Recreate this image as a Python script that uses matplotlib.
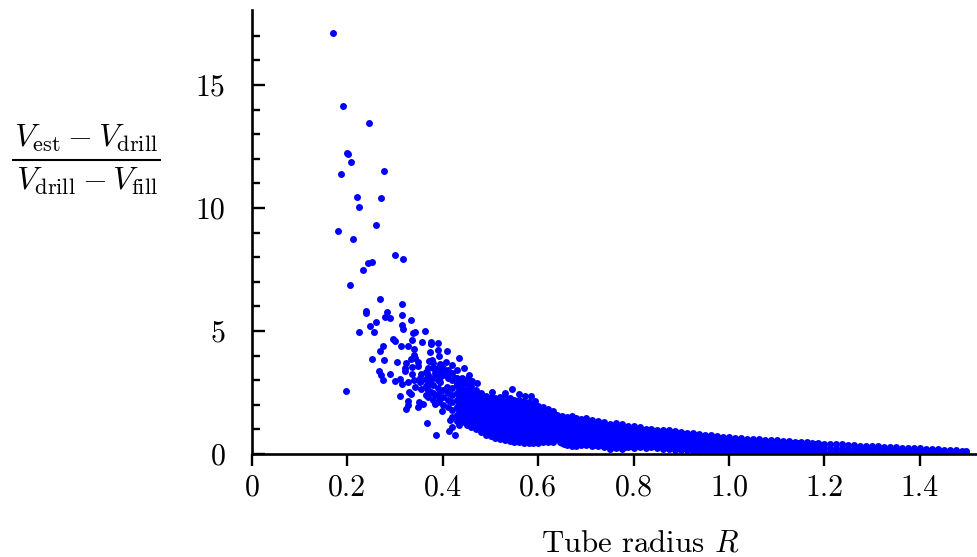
import matplotlib
matplotlib.use('Agg')
import matplotlib.pyplot as plt
from matplotlib.lines import Line2D

plt.rcParams['font.family'] = ['cmr10', 'DejaVu Sans']
plt.rcParams['mathtext.fontset'] = 'cm'
plt.rcParams['axes.unicode_minus'] = False

# points read one by one where the cloud is sparse
sparse_r = [.170, .191, .246, .199, .2006, .208, .277, .187, .220, .270, .225, .260, .180, .212,
            .300, .317, .252, .243, .233, .205,
            .268, .314, .240, .238, .283, .279, .289, .314, .333, .259, .248, .314, .317, .256,
            .225, .342, .338, .363, .335, .296, .300, .356, .375, .375, .390, .274, .313, .328,
            .340, .389, .268, .374, .409, .391, .340, .342, .333, .251, .277, .305, .323, .349,
            .349, .371, .377, .380, .407, .420, .433, .445, .394, .335, .320, .370, .389, .266,
            .270, .289, .321, .335, .367, .384, .401, .412, .274, .300, .310, .315, .328, .339,
            .353, .352, .370, .373, .387, .394, .426, .429, .454, .461, .342, .329, .333, .366,
            .375, .365, .384, .408, .471, .198, .310, .327, .326, .323, .351, .358, .347, .384,
            .398, .367, .386, .412, .425, .419, .433, .415, .450, .503, .530, .545, .560, .573,
            .584, .593]
sparse_ratio = [17.11, 14.13, 13.44, 12.25, 12.18, 11.88, 11.49, 11.38, 10.46, 10.41, 10.04, 9.31, 9.08, 8.75,
                8.09, 7.93, 7.80, 7.76, 7.48, 6.87,
                6.30, 6.10, 5.83, 5.73, 5.77, 5.57, 5.54, 5.64, 5.45, 5.37, 5.22, 5.24, 5.09, 4.97,
                4.95, 4.96, 4.92, 5.01, 4.65, 4.67, 4.61, 4.57, 4.54, 4.46, 4.51, 4.38, 4.39, 4.38,
                4.28, 4.23, 4.17, 4.13, 4.20, 3.97, 4.02, 3.92, 3.86, 3.86, 3.81, 3.73, 3.70, 3.75,
                3.59, 3.77, 3.81, 3.69, 3.73, 3.62, 3.89, 3.51, 3.66, 3.54, 3.48, 3.48, 3.48, 3.37,
                3.21, 3.25, 3.39, 3.27, 3.28, 3.31, 3.39, 3.28, 3.01, 2.95, 3.06, 2.85, 2.94, 3.01,
                3.08, 2.91, 3.10, 2.87, 3.08, 2.94, 3.08, 2.87, 3.21, 2.98, 2.71, 2.53, 2.44, 2.67,
                2.53, 2.40, 2.40, 2.74, 2.87, 2.57, 2.37, 2.17, 1.99, 1.83, 2.13, 2.03, 1.90, 2.04,
                1.76, 1.27, 0.79, 0.95, 0.76, 1.11, 1.18, 1.38, 1.18, 2.53, 2.47, 2.64, 2.42, 2.37,
                2.37, 2.14]

# the busy part of the cloud just left of the band
cloud_r = [.37, .38, .39, .40, .41, .42, .43, .44, .45, .46, .435, .395, .365, .355]
cloud_ratio = [
    [3.2, 2.9, 2.6, 2.3],
    [3.5, 3.1, 2.8, 2.5, 2.2],
    [3.3, 3.0, 2.7, 2.4, 2.1],
    [3.5, 3.2, 2.6, 2.3, 2.0],
    [3.4, 3.1, 2.5, 2.2, 1.9],
    [3.3, 3.0, 2.7, 2.4, 2.1, 1.8, 1.5],
    [3.4, 3.1, 2.8, 2.5, 2.2, 1.9, 1.6, 1.35],
    [2.7, 2.9, 3.1],
    [2.85, 3.05],
    [2.75, 2.95],
    [1.45, 1.75, 2.05, 2.35, 2.65, 2.95],
    [2.25, 2.55, 3.15, 3.45],
    [2.75, 3.05, 3.35],
    [2.65, 2.95, 3.25],
]

band_r = [.44, .45, .46, .47, .48, .49, .50, .51, .52, .53, .54, .55, .56, .57, .58, .59, .60,
          .61, .62, .63, .64, .65, .66, .67, .68, .69, .70,
          .7125, .725, .7375, .75, .7625, .775, .7875, .80, .8125, .825, .8375, .85, .8625, .875,
          .8875, .90, .9125, .925, .9375, .95, .9625, .975, .9875,
          1.0, 1.0125, 1.025, 1.0375, 1.05, 1.0625, 1.075, 1.0875, 1.10, 1.1125, 1.125, 1.1375,
          1.15, 1.1625, 1.175, 1.1875, 1.20, 1.2125, 1.225, 1.2375, 1.25, 1.2625, 1.275, 1.2875,
          1.30, 1.3125, 1.325, 1.3375, 1.35, 1.3625, 1.375, 1.3875, 1.40, 1.4125, 1.425, 1.4375,
          1.45, 1.4625, 1.475, 1.4875, 1.497]
band_ratio = [
    [1.3, 1.5, 1.7, 1.9, 2.1, 2.3, 2.5],
    [1.2, 1.4, 1.6, 1.8, 2.0, 2.2, 2.4, 2.62],
    [1.1, 1.3, 1.5, 1.7, 1.9, 2.1, 2.3, 2.52],
    [1.0, 1.2, 1.4, 1.6, 1.8, 2.0, 2.2, 2.4, 2.6],
    [.88, 1.08, 1.28, 1.48, 1.68, 1.88, 2.08, 2.28, 2.48],
    [.76, .96, 1.16, 1.36, 1.56, 1.76, 1.96, 2.16, 2.36],
    [.72, .92, 1.12, 1.32, 1.52, 1.72, 1.92, 2.12, 2.32],
    [.66, .86, 1.06, 1.26, 1.46, 1.66, 1.86, 2.06, 2.26],
    [.6, .8, 1.0, 1.2, 1.4, 1.6, 1.8, 2.0, 2.2, 2.33],
    [.56, .76, .96, 1.16, 1.36, 1.56, 1.76, 1.96, 2.16, 2.3],
    [.52, .72, .92, 1.12, 1.32, 1.52, 1.72, 1.92, 2.12, 2.27],
    [.5, .7, .9, 1.1, 1.3, 1.5, 1.7, 1.9, 2.1, 2.2],
    [.5, .66, .86, 1.06, 1.26, 1.46, 1.66, 1.86, 2.06, 2.2],
    [.46, .64, .84, 1.04, 1.24, 1.44, 1.64, 1.84, 2.04, 2.15],
    [.44, .6, .8, 1.0, 1.2, 1.4, 1.6, 1.8, 2.0, 2.12],
    [.46, .64, .84, 1.04, 1.24, 1.44, 1.64, 1.84, 2.02],
    [.46, .6, .8, 1.0, 1.2, 1.4, 1.6, 1.8, 1.97],
    [.48, .66, .86, 1.06, 1.26, 1.46, 1.66, 1.9],
    [.5, .62, .82, 1.02, 1.22, 1.42, 1.62, 1.82],
    [.5, .7, .9, 1.1, 1.3, 1.5, 1.74],
    [.6, .78, .98, 1.18, 1.38, 1.58],
    [.44, .62, .82, 1.02, 1.22, 1.42, 1.56],
    [.36, .56, .76, .96, 1.16, 1.36, 1.5],
    [.34, .54, .74, .94, 1.14, 1.34, 1.54],
    [.34, .5, .7, .9, 1.1, 1.3, 1.48],
    [.36, .56, .76, .96, 1.16, 1.36, 1.42],
    [.36, .52, .72, .92, 1.12, 1.32, 1.46],
    [.32, .5, .7, .9, 1.1, 1.3, 1.38],
    [.34, .54, .74, .94, 1.14, 1.34],
    [.28, .48, .68, .88, 1.08, 1.3],
    [.22, .42, .62, .82, 1.02, 1.22],
    [.26, .46, .66, .86, 1.06, 1.24],
    [.2, .4, .6, .8, 1.0, 1.2],
    [.28, .46, .66, .86, 1.06, 1.14],
    [.24, .44, .64, .84, 1.04, 1.13],
    [.3, .5, .7, .9, 1.08],
    [.26, .46, .66, .86, 1.0],
    [.3, .5, .7, .9, 1.02],
    [.24, .44, .64, .84, .97],
    [.2, .4, .6, .8, .99],
    [.2, .38, .58, .78, .96],
    [.16, .36, .56, .76, .92],
    [.18, .36, .56, .76, .88],
    [.16, .34, .54, .74, .86],
    [.14, .32, .52, .72, .84],
    [.14, .34, .54, .74, .8],
    [.12, .3, .5, .7, .78],
    [.14, .32, .52, .72, .79],
    [.12, .3, .5, .7, .74],
    [.12, .3, .5, .69],
    [.12, .3, .5, .68],
    [.1, .28, .46, .64],
    [.11, .28, .46, .67],
    [.1, .26, .44, .62],
    [.11, .28, .46, .62],
    [.1, .26, .44, .6],
    [.1, .26, .42, .58],
    [.11, .28, .44, .56],
    [.1, .26, .42, .55],
    [.1, .26, .42, .52],
    [.1, .26, .42, .52],
    [.1, .24, .4, .5],
    [.1, .26, .4, .49],
    [.1, .24, .38, .47],
    [.1, .24, .38, .45],
    [.1, .24, .38, .45],
    [.1, .24, .42],
    [.1, .24, .41],
    [.1, .22, .4],
    [.1, .24, .41],
    [.1, .22, .38],
    [.1, .22, .35],
    [.1, .22, .34],
    [.1, .22, .33],
    [.1, .22, .32],
    [.1, .2, .31],
    [.1, .2, .3],
    [.1, .2, .29],
    [.1, .2, .27],
    [.09, .18, .26],
    [.09, .18, .25],
    [.09, .18, .24],
    [.09, .16, .23],
    [.09, .16, .22],
    [.09, .16, .21],
    [.09, .15, .2],
    [.08, .14, .18],
    [.08, .13, .17],
    [.08, .12, .16],
    [.08, .14],
    [.08, .12],
]

# more points between the columns, where the band is solid in the picture
fill_r = [.605, .615, .625, .635, .645, .655, .665, .675, .685, .695,
          .706, .719, .731, .744, .756, .769, .781, .794, .806, .819, .831, .844,
          .856, .869, .881, .894, .906, .919, .931, .944, .956, .969, .981, .994,
          1.006, 1.019, 1.031, 1.044, 1.056, 1.069, 1.081, 1.094, 1.106, 1.119, 1.131, 1.144,
          1.156, 1.169, 1.181, 1.194]
fill_ratio = [
    [.56, .9, 1.1, 1.3, 1.5, 1.7],
    [.56, .76, .96, 1.16, 1.36, 1.56, 1.76],
    [.6, .72, .92, 1.12, 1.32, 1.52, 1.72],
    [.6, .8, 1.0, 1.2, 1.4, 1.6],
    [.5, .7, .9, 1.1, 1.3, 1.5],
    [.4, .66, .86, 1.06, 1.26, 1.46],
    [.44, .64, .84, 1.04, 1.24, 1.44],
    [.42, .6, .8, 1.0, 1.2, 1.4],
    [.44, .66, .86, 1.06, 1.26],
    [.44, .62, .82, 1.02, 1.22, 1.4],
    [.4, .6, .8, 1.0, 1.2],
    [.38, .6, .8, 1.0, 1.2],
    [.36, .58, .78, .98, 1.18],
    [.32, .52, .72, .92, 1.12],
    [.32, .52, .72, .92, 1.12],
    [.32, .52, .72, .92, 1.1],
    [.3, .5, .7, .9, 1.1],
    [.34, .56, .76, .96],
    [.34, .54, .74, .94],
    [.38, .6, .8, .98],
    [.36, .56, .76, .94],
    [.38, .6, .8, .94],
    [.32, .5, .7, .9],
    [.3, .5, .7, .9],
    [.28, .48, .68, .86],
    [.26, .46, .66, .84],
    [.26, .44, .64, .82],
    [.24, .44, .62, .78],
    [.22, .42, .62, .76],
    [.22, .42, .62, .74],
    [.2, .4, .6],
    [.22, .4, .6],
    [.2, .4, .6],
    [.2, .4, .58],
    [.2, .36, .54],
    [.18, .36, .54],
    [.18, .36, .54],
    [.18, .36, .52],
    [.18, .34, .5],
    [.18, .34, .5],
    [.18, .34, .48],
    [.18, .34, .48],
    [.18, .34, .46],
    [.18, .32, .46],
    [.16, .32, .44],
    [.18, .32, .44],
    [.16, .3, .42],
    [.16, .3, .4],
    [.16, .3, .4],
    [.16, .3, .38],
]

x_ticks = [0, .2, .4, .6, .8, 1.0, 1.2, 1.4]
x_labels = ['0', '0.2', '0.4', '0.6', '0.8', '1.0', '1.2', '1.4']
y_ticks = [0, 5, 10, 15]
y_minor = [1, 2, 3, 4, 6, 7, 8, 9, 11, 12, 13, 14, 16, 17]

fig = plt.figure(figsize=(9.77, 5.57), dpi=100)
ax = fig.add_axes([252 / 977, 1 - 454 / 557, 725 / 977, 444 / 557])

for rs, groups in [(band_r, band_ratio), (fill_r, fill_ratio), (cloud_r, cloud_ratio)]:
    for r, values in zip(rs, groups):
        ax.scatter([r] * len(values), values, s=25, color='#0000ff', linewidths=0)
ax.scatter(sparse_r, sparse_ratio, s=25, color='#0000ff', linewidths=0)

ax.set_xlim(0, 725 / 477)
ax.set_ylim(0, 444 / 24.6)
ax.spines['top'].set_visible(False)
ax.spines['right'].set_visible(False)
ax.spines['left'].set_linewidth(1.9)
ax.spines['bottom'].set_linewidth(1.9)
ax.set_xticks(x_ticks)
ax.set_xticklabels(x_labels)
ax.set_yticks(y_ticks)
ax.set_yticklabels([str(v) for v in y_ticks])
ax.set_yticks(y_minor, minor=True)
ax.tick_params(axis='x', direction='out', length=8.5, width=1.7, labelsize=21.5, pad=6)
ax.tick_params(axis='y', which='major', direction='in', length=9, width=1.7, labelsize=21.5, pad=19)
ax.tick_params(axis='y', which='minor', direction='in', length=5.5, width=1.7)

fig.text(640 / 977, 1 - 551 / 557, r'Tube radius $R$', fontsize=22.2, ha='center', va='baseline')

# fraction drawn in three parts, the mathtext bar is too thin and too tight
fig.text(86 / 977, 1 - 147 / 557, r'$V_{\mathrm{est}} - V_{\mathrm{drill}}$',
         fontsize=23, ha='center', va='baseline')
fig.text(87 / 977, 1 - 190 / 557, r'$V_{\mathrm{drill}} - V_{\mathrm{fill}}$',
         fontsize=23, ha='center', va='baseline')
fig.add_artist(Line2D([13 / 977, 160 / 977], [1 - 159.5 / 557, 1 - 159.5 / 557],
                      color='black', linewidth=1.5, transform=fig.transFigure))

fig.savefig('out.png', dpi=100)
